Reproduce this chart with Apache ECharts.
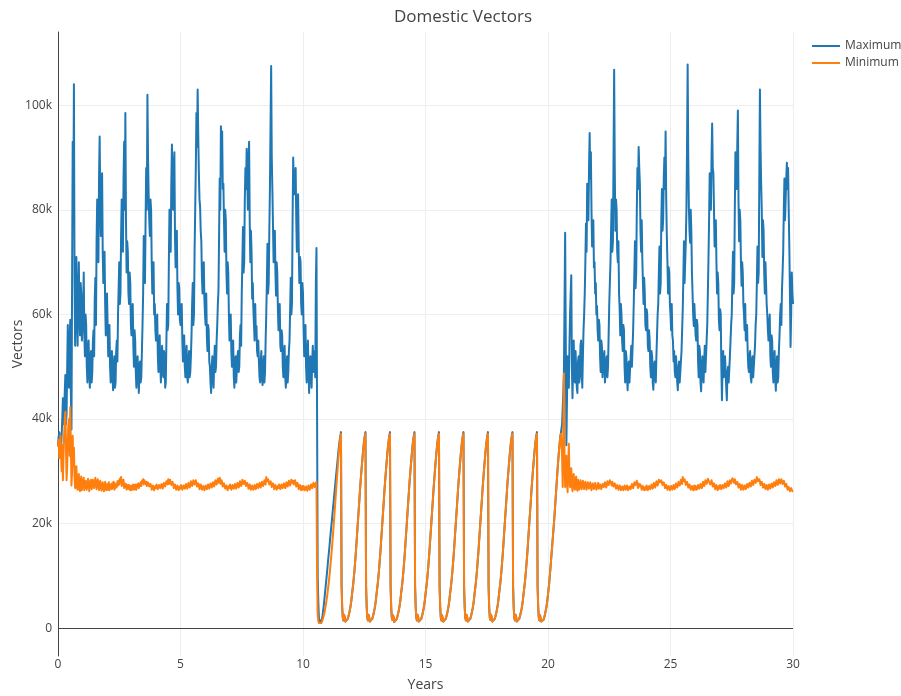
<!DOCTYPE html>
<html>
<head>
<meta charset="utf-8">
<script src="https://cdn.jsdelivr.net/npm/echarts@6/dist/echarts.min.js"></script>
<style>
html,body{margin:0;padding:0;background:#fff;}
#chart{width:901px;height:696px;}
</style>
</head>
<body>
<div id="chart"></div>
<script>
// Sample spacing of the simulation output (years)
const STEP_YEARS = 0.025;
const seriesNames = ['Maximum', 'Minimum'];
const xTickValues = [0, 5, 10, 15, 20, 25, 30];
const yTickValuesK = [0, 20, 40, 60, 80, 100];

// Domestic vectors, thousands; one row per year (40 samples per year)
const maximumK = [
  35, 36.5, 37.5, 35, 37, 34.5, 37, 40, 44, 39, 40, 45, 48.4, 39, 41, 50, 58, 47, 46, 55, 59, 45, 38, 66, 93, 80, 104, 66, 54, 62, 71, 60, 54, 63, 70, 60, 56, 66, 64, 55,
  58, 61, 68, 56, 52, 60, 58, 50, 47, 53, 55, 49, 46, 52, 53, 47, 49, 55, 57, 52, 63, 67, 58, 74, 82, 76, 70, 86, 94, 82, 75, 80, 87, 72, 66, 70, 72, 62, 56, 62,
  64, 58, 52, 55, 58, 50, 47, 51, 53, 48, 45.5, 50, 52, 46, 47, 53, 55, 51, 60, 65, 70, 62, 64, 75, 82, 77, 72, 86, 93, 80, 98.5, 78, 68, 74, 72, 64, 62, 68, 66, 58,
  56, 60, 62, 54, 50, 57, 55, 49, 46, 51, 52, 48, 45, 50, 51, 47, 48, 53, 58, 64, 75, 69, 66, 78, 88, 80, 102, 90, 83, 78, 75, 82, 80, 70, 64, 68, 70, 60, 62, 57,
  55, 58, 60, 52, 49, 54, 56, 50, 47, 52, 54, 49, 48, 53, 52, 46, 47, 55, 62, 57, 58, 70, 80, 74, 72, 85, 92.5, 84, 80, 88, 91, 75, 69, 73, 76, 65, 60, 66, 65, 59,
  58, 61, 62, 55, 51, 55, 56, 50, 48, 52, 54, 48, 47, 51, 53, 48, 49, 52, 56, 62, 66, 58, 60, 72, 80, 88, 98.5, 92, 103, 94, 87, 82, 80.6, 76, 74, 67, 64, 69, 70, 63,
  60, 58, 64, 56, 53, 58, 57, 51, 50, 47, 45, 50, 52, 48, 46, 51, 54, 49, 50, 55, 58, 62, 64.6, 75, 86, 80, 96, 88, 95, 84, 85, 78, 72, 80, 78, 68, 64, 70, 68, 60,
  55, 59, 60, 53, 50, 54, 55, 48, 46, 51, 52, 47, 47, 52, 53, 49, 50, 56, 58, 54, 64, 70, 76.7, 68, 70, 82, 88, 84, 91.7, 86, 80, 89, 93, 78, 70, 76, 72, 63, 66, 61,
  58, 55, 62, 56, 57.8, 53, 52, 55, 51, 48, 47, 51, 53, 48, 46.5, 50, 52, 47, 49, 55, 60, 66, 73.5, 64, 66, 76, 84, 96, 107.5, 90, 84, 77, 70, 74, 76, 68, 63.6, 70, 68, 61,
  57, 60, 62, 54, 53, 57, 56, 50, 48, 52, 54, 48, 46, 50, 52, 47, 49, 53, 55, 61, 67, 60, 62, 78, 90, 85, 83, 86, 88, 78, 72, 80, 83, 73, 66, 71, 70, 62, 60, 66,
  64, 57, 52, 56, 58, 50, 47, 52, 55, 49, 45, 51, 52, 48, 46, 51, 54, 49, 49, 53, 48, 66, 72.7, 40, 9.8, 5, 2.0, 1.4, 1.0, 1.1, 1.3, 1.8, 2.5, 3.4, 4.5, 5.6, 6.8, 8.0, 9.2, 10.4,
  11.7, 13.0, 14.2, 15.4, 16.7, 18.0, 19.2, 20.4, 21.7, 23.0, 24.2, 25.4, 26.7, 28.0, 29.2, 30.4, 31.6, 32.8, 34.0, 35.1, 36.0, 36.8, 37.5, 8, 4.0, 2.0, 1.5, 2.6, 2.2, 1.3, 1.0, 1.1, 1.4, 1.8, 2.2, 2.7, 3.2, 3.8, 4.5, 5.4,
  6.5, 7.5, 8.5, 9.7, 11, 12.5, 14, 15.7, 17.5, 19.2, 21, 22.7, 24.5, 26.3, 28, 29.5, 31, 32.4, 33.8, 35, 36, 36.9, 37.5, 8, 4.0, 2.0, 1.5, 2.6, 2.2, 1.3, 1.0, 1.1, 1.4, 1.8, 2.2, 2.7, 3.2, 3.8, 4.5, 5.4,
  6.5, 7.5, 8.5, 9.7, 11, 12.5, 14, 15.7, 17.5, 19.2, 21, 22.7, 24.5, 26.3, 28, 29.5, 31, 32.4, 33.8, 35, 36, 36.9, 37.5, 8, 4.0, 2.0, 1.6, 2.5, 2.1, 1.2, 1.0, 1.1, 1.4, 1.8, 2.2, 2.7, 3.2, 3.8, 4.5, 5.4,
  6.5, 7.5, 8.5, 9.7, 11, 12.5, 14, 15.7, 17.5, 19.2, 21, 22.7, 24.5, 26.3, 28, 29.5, 31, 32.4, 33.8, 35, 36, 36.9, 37.5, 8, 4.0, 2.0, 1.5, 2.6, 2.2, 1.3, 1.0, 1.1, 1.4, 1.8, 2.2, 2.7, 3.2, 3.8, 4.5, 5.4,
  6.5, 7.5, 8.5, 9.7, 11, 12.5, 14, 15.7, 17.5, 19.2, 21, 22.7, 24.5, 26.3, 28, 29.5, 31, 32.4, 33.8, 35, 36, 36.9, 37.5, 8, 4.1, 2.0, 1.5, 2.5, 2.2, 1.3, 1.0, 1.1, 1.4, 1.8, 2.2, 2.7, 3.2, 3.8, 4.5, 5.4,
  6.5, 7.5, 8.5, 9.7, 11, 12.5, 14, 15.7, 17.5, 19.2, 21, 22.7, 24.5, 26.3, 28, 29.5, 31, 32.4, 33.8, 35, 36, 36.9, 37.5, 8, 4.0, 2.0, 1.5, 2.6, 2.2, 1.3, 1.0, 1.1, 1.4, 1.8, 2.2, 2.7, 3.2, 3.8, 4.5, 5.4,
  6.5, 7.5, 8.5, 9.7, 11, 12.5, 14, 15.7, 17.5, 19.2, 21, 22.7, 24.5, 26.3, 28, 29.5, 31, 32.4, 33.8, 35, 36, 36.9, 37.5, 8, 3.9, 2.0, 1.6, 2.6, 2.1, 1.3, 1.0, 1.1, 1.4, 1.8, 2.2, 2.7, 3.2, 3.8, 4.5, 5.4,
  6.5, 7.5, 8.5, 9.7, 11, 12.5, 14, 15.7, 17.5, 19.2, 21, 22.7, 24.5, 26.3, 28, 29.5, 31, 32.4, 33.8, 35, 36, 36.9, 37.5, 8, 4.0, 2.0, 1.5, 2.6, 2.2, 1.3, 1.0, 1.1, 1.4, 1.8, 2.2, 2.7, 3.2, 3.8, 4.5, 5.4,
  6.5, 7.5, 8.5, 9.7, 11, 12.5, 14, 15.7, 17.5, 19.2, 21, 22.7, 24.5, 26.3, 28, 29.5, 31, 32.4, 33.8, 35, 36, 36.9, 37.5, 8, 4.0, 2.0, 1.5, 2.5, 2.2, 1.3, 1.0, 1.0, 1.3, 1.7, 2.1, 2.6, 3.2, 3.8, 4.5, 5.4,
  6.5, 7.6, 8.7, 10.1, 11.5, 13, 14.5, 16, 17.5, 19, 20.5, 22.2, 24, 25.7, 27.5, 29.2, 31, 32.5, 34, 35.3, 36.6, 37.3, 37.6, 39, 42, 45, 49, 62, 75.6, 55, 35, 44, 52, 48, 46, 54, 60, 64, 67.5, 50,
  44, 50, 55, 48, 47, 53, 53, 46, 45, 51, 52, 47, 48, 54, 55, 49, 46, 52, 57, 60, 64, 70, 77.4, 72, 85, 80, 78, 88, 94.7, 86, 91, 80, 73, 76, 78, 69, 70, 64, 66, 60,
  61.6, 57, 55, 59, 58, 52, 49, 55, 54, 48, 48, 52, 53, 47, 47, 51, 52, 48, 50, 56, 62, 66, 70, 76, 82, 72, 74, 90, 106.8, 88, 76, 82, 80, 72, 70, 74, 64, 61, 56, 62,
  60, 55, 53, 58, 57, 50, 47, 53, 52, 48, 45.5, 50, 51, 47, 47, 52, 54, 50, 50, 57, 62, 68, 74, 65, 68, 80, 88, 84, 92, 88, 85, 76, 72, 78, 70.5, 66, 62, 67, 64, 58,
  57, 61, 60, 54, 53, 57, 55, 50, 48, 53, 52, 47, 45.6, 50, 51, 48, 47, 52, 56, 60, 62, 68, 73, 64, 66, 78, 84, 76, 78, 86, 90, 84, 95, 82, 75, 70, 64, 69, 68, 62,
  60, 57, 62, 56, 55, 51, 53, 49, 48, 52, 52, 47, 45.5, 50, 51, 47, 47, 51, 53, 57, 61, 67, 74, 66, 66, 74, 80, 92, 107.8, 90, 80.6, 76, 73.7, 80, 76, 68, 64, 60, 57.8, 62,
  62, 56, 55, 59, 58, 51, 48, 54, 53, 47, 45.3, 50, 52, 48, 47, 51, 54, 49, 49, 55, 58, 64, 70.7, 78, 87, 82, 80, 90, 96.5, 88, 87, 80, 73, 76, 78, 70, 64, 68, 66, 59,
  57, 61, 60, 50, 43.6, 50, 53, 48, 48, 52, 52, 46, 43.6, 49, 50, 47, 47, 52, 55, 58, 60, 66, 72, 64, 66, 80, 91, 86, 84, 92, 99, 82, 74, 80, 78, 70, 65.5, 70, 68, 62,
  60, 57, 62, 55, 55, 58, 53, 50, 49, 52, 53, 48, 47, 51, 52, 48, 48, 52, 54, 58, 60, 66, 73, 66, 68, 86, 103, 92, 85, 80, 71, 78, 76, 68, 64, 70, 66, 62, 60, 57,
  55, 58, 60, 52, 50, 56, 55, 49, 47, 52, 53, 48, 45.4, 50, 52, 47, 48, 53, 56, 60, 62, 58, 64.7, 68, 72, 80, 86, 78, 82, 86, 89, 84, 88, 80, 73, 64, 53.8, 60, 68, 64,
  62
];

const minimumK = [
  34.7, 36, 32.5, 34, 36.9, 33, 30, 35, 28.3, 33, 37, 40, 41.4, 35, 28.3, 31, 36, 39, 40, 33, 42.3, 35, 27.3, 30, 36.8, 31, 34.5, 29, 26.8, 29, 31, 27, 26.5, 28.8, 29.5, 26.6, 26.2, 28.5, 29, 26.4,
  26.5, 28, 28.8, 26.4, 26.2, 28.2, 28.5, 26.5, 26.8, 28.6, 28.2, 26.2, 26.3, 28, 28.4, 26.6, 26.6, 28.4, 28.6, 26.8, 27, 28.8, 28.9, 26.6, 26.8, 28.5, 28.3, 26.4, 26.5, 28.2, 28, 26.3, 26.4, 27.9, 27.8, 26.2, 26.6, 28, 28, 26.4,
  26.3, 27.6, 26.5, 27.9, 26.4, 27.4, 26.7, 27.6, 26.6, 27.8, 26.9, 28, 26.5, 27.7, 26.8, 27.5, 27, 28.1, 27.3, 28.2, 27.5, 28.6, 27.9, 28.9, 27.2, 28.3, 27.4, 28.4, 26.8, 27.7, 27, 27.6, 26.5, 27.4, 26.7, 27.4, 26.6, 27.3, 26.4, 27.2,
  26.4, 27.3, 26.6, 27.5, 26.5, 27.4, 26.6, 27.5, 26.5, 27.3, 27, 27.7, 26.8, 27.6, 27.2, 27.9, 27.2, 28.1, 27.9, 28.5, 27.5, 28.3, 28.3, 27.6, 28, 27.2, 27.4, 27.9, 27.8, 27.1, 26.9, 27.6, 27.2, 26.5, 26.6, 27.3, 27.1, 26.4, 26.5, 27.2,
  26.8, 27.5, 27.3, 26.6, 26.6, 27.4, 27.5, 26.8, 26.9, 27.6, 27.2, 26.7, 27, 27.8, 27.8, 27.1, 27.4, 28.1, 28.2, 27.5, 28.5, 27.6, 27.8, 28.4, 28.1, 27.4, 27.3, 28, 27.5, 26.8, 26.8, 27.5, 27.2, 26.5, 26.6, 27.3, 27, 26.4, 26.5, 27.1,
  26.7, 27.4, 27.2, 26.5, 26.5, 27.3, 27.4, 26.7, 26.8, 27.6, 27.3, 26.7, 27, 27.8, 27.6, 26.9, 27.3, 28.1, 27.9, 27.2, 27.6, 28.3, 28.2, 27.5, 27.5, 28.3, 27.8, 27.1, 27, 27.7, 27.3, 26.6, 26.8, 27.5, 27.1, 26.5, 26.4, 27.2, 27, 26.4,
  26.5, 27.3, 27.2, 26.6, 26.7, 27.5, 27.3, 26.7, 26.9, 27.7, 27.5, 26.9, 27.1, 27.9, 27.8, 27.1, 27.4, 28.3, 28.2, 27.5, 27.8, 28.6, 28.5, 27.8, 28.8, 28, 27.6, 28.3, 27.9, 27.1, 27, 27.7, 27.4, 26.7, 26.6, 27.3, 27.1, 26.4, 26.5, 27.2,
  26.8, 27.5, 27.2, 26.5, 26.6, 27.4, 27.4, 26.7, 26.9, 27.6, 27.3, 26.7, 27, 27.8, 27.6, 26.9, 27.3, 28.1, 27.8, 27.2, 27.6, 28.4, 28.3, 27.6, 27.5, 28.2, 27.9, 27.2, 27.1, 27.8, 27.4, 26.7, 26.8, 27.5, 27.2, 26.5, 26.6, 27.3, 27, 26.5,
  26.7, 27.4, 27.3, 26.6, 26.8, 27.6, 27.5, 26.8, 27, 27.8, 27.6, 26.9, 27.2, 28, 27.9, 27.2, 27.5, 28.3, 28.2, 27.5, 28.9, 28.1, 27.8, 28.5, 28.3, 27.5, 27.4, 28.1, 27.7, 27, 27, 27.7, 27.3, 26.6, 26.7, 27.4, 27.1, 26.5, 26.6, 27.2,
  26.8, 27.5, 27.3, 26.6, 26.7, 27.5, 27.4, 26.8, 27, 27.7, 27.5, 26.8, 27.2, 27.9, 27.8, 27.1, 27.4, 28.2, 28, 27.3, 27.7, 28.4, 28.5, 27.8, 28.2, 27.5, 27.6, 28.3, 27.8, 27.1, 27.1, 27.8, 27.3, 26.6, 26.7, 27.4, 27, 26.4, 26.6, 27.2,
  26.5, 27.2, 27, 26.4, 26.4, 27.1, 26.8, 26.3, 26.6, 27.3, 27.1, 26.5, 26.9, 27.5, 27.3, 26.8, 27.2, 27.8, 27.5, 27, 27.6, 27.8, 28.0, 10, 2.5, 1.4, 1.0, 0.8, 0.8, 0.9, 1.0, 1.3, 1.6, 2.0, 2.5, 3.0, 3.6, 4.3, 5.0, 5.8,
  6.7, 7.7, 8.7, 9.8, 11, 12.3, 13.6, 15, 16.5, 18, 19.6, 21.2, 22.9, 24.6, 26.3, 28, 29.6, 31.2, 32.8, 34.2, 35.5, 36.5, 37.2, 8, 4.0, 2.0, 1.5, 2.6, 2.2, 1.3, 1.0, 1.1, 1.4, 1.8, 2.2, 2.7, 3.2, 3.8, 4.5, 5.4,
  6.5, 7.5, 8.5, 9.7, 11, 12.5, 14, 15.7, 17.5, 19.2, 21, 22.7, 24.5, 26.3, 28, 29.5, 31, 32.4, 33.8, 35, 36, 36.7, 37.2, 8, 4.0, 2.0, 1.5, 2.6, 2.2, 1.3, 1.0, 1.1, 1.4, 1.8, 2.2, 2.7, 3.2, 3.8, 4.5, 5.4,
  6.5, 7.5, 8.5, 9.7, 11, 12.5, 14, 15.7, 17.5, 19.2, 21, 22.7, 24.5, 26.3, 28, 29.5, 31, 32.4, 33.8, 35, 36, 36.7, 37.2, 8, 4.0, 2.0, 1.6, 2.5, 2.1, 1.2, 1.0, 1.1, 1.4, 1.8, 2.2, 2.7, 3.2, 3.8, 4.5, 5.4,
  6.5, 7.5, 8.5, 9.7, 11, 12.5, 14, 15.7, 17.5, 19.2, 21, 22.7, 24.5, 26.3, 28, 29.5, 31, 32.4, 33.8, 35, 36, 36.7, 37.2, 8, 4.0, 2.0, 1.5, 2.6, 2.2, 1.3, 1.0, 1.1, 1.4, 1.8, 2.2, 2.7, 3.2, 3.8, 4.5, 5.4,
  6.5, 7.5, 8.5, 9.7, 11, 12.5, 14, 15.7, 17.5, 19.2, 21, 22.7, 24.5, 26.3, 28, 29.5, 31, 32.4, 33.8, 35, 36, 36.7, 37.2, 8, 4.1, 2.0, 1.5, 2.5, 2.2, 1.3, 1.0, 1.1, 1.4, 1.8, 2.2, 2.7, 3.2, 3.8, 4.5, 5.4,
  6.5, 7.5, 8.5, 9.7, 11, 12.5, 14, 15.7, 17.5, 19.2, 21, 22.7, 24.5, 26.3, 28, 29.5, 31, 32.4, 33.8, 35, 36, 36.7, 37.2, 8, 4.0, 2.0, 1.5, 2.6, 2.2, 1.3, 1.0, 1.1, 1.4, 1.8, 2.2, 2.7, 3.2, 3.8, 4.5, 5.4,
  6.5, 7.5, 8.5, 9.7, 11, 12.5, 14, 15.7, 17.5, 19.2, 21, 22.7, 24.5, 26.3, 28, 29.5, 31, 32.4, 33.8, 35, 36, 36.7, 37.2, 8, 3.9, 2.0, 1.6, 2.6, 2.1, 1.3, 1.0, 1.1, 1.4, 1.8, 2.2, 2.7, 3.2, 3.8, 4.5, 5.4,
  6.5, 7.5, 8.5, 9.7, 11, 12.5, 14, 15.7, 17.5, 19.2, 21, 22.7, 24.5, 26.3, 28, 29.5, 31, 32.4, 33.8, 35, 36, 36.7, 37.2, 8, 4.0, 2.0, 1.5, 2.6, 2.2, 1.3, 1.0, 1.1, 1.4, 1.8, 2.2, 2.7, 3.2, 3.8, 4.5, 5.4,
  6.5, 7.5, 8.5, 9.7, 11, 12.5, 14, 15.7, 17.5, 19.2, 21, 22.7, 24.5, 26.3, 28, 29.5, 31, 32.4, 33.8, 35, 36, 36.7, 37.2, 8, 4.0, 2.0, 1.5, 2.5, 2.2, 1.3, 1.0, 1.0, 1.3, 1.7, 2.1, 2.6, 3.2, 3.8, 4.5, 5.4,
  6.5, 7.6, 8.7, 10.1, 11.5, 13, 14.5, 16, 17.5, 19, 20.5, 22.2, 24, 25.7, 27.5, 29.2, 31, 32.5, 34, 35.3, 36.5, 37.2, 37.5, 33, 27, 38, 48.7, 32, 27, 30, 33, 28, 26, 31, 35.3, 29, 27, 28.5, 30.6, 27.2,
  26.2, 28.5, 29.5, 27, 26.5, 28.6, 29, 26.8, 26.3, 28.4, 28.6, 26.5, 26.8, 28.3, 28.4, 26.6, 26.5, 28.2, 28.2, 26.6, 26.9, 28, 27.8, 26.5, 26.6, 27.9, 28.1, 26.7, 26.8, 27.9, 27.6, 26.4, 26.5, 27.7, 27.9, 26.6, 26.7, 27.8, 27.5, 26.5,
  26.4, 27.4, 27.8, 26.7, 26.6, 27.5, 27.4, 26.6, 26.8, 27.6, 27.9, 27, 27.1, 27.9, 27.6, 26.9, 27.4, 28.1, 28.2, 27.4, 27.6, 28.3, 28.5, 27.7, 27.3, 28, 27.9, 27.1, 27, 27.7, 27.4, 26.7, 26.6, 27.4, 27.2, 26.5, 26.5, 27.3, 27, 26.4,
  26.3, 27.1, 27.1, 26.4, 26.5, 27.3, 27.2, 26.5, 26.6, 27.3, 27, 26.4, 26.4, 27.1, 27.3, 26.6, 26.8, 27.6, 27.5, 26.8, 27.2, 27.9, 28.1, 27.4, 27.6, 28.2, 27.3, 26.8, 27.7, 27.1, 26.9, 27.5, 27.2, 26.5, 26.4, 27.2, 27, 26.4, 26.3, 27,
  26.5, 27.3, 27.1, 26.4, 26.4, 27.2, 27.3, 26.6, 26.8, 27.5, 27.4, 26.7, 27, 27.8, 27.6, 26.9, 27.4, 28.1, 28, 27.3, 27.8, 28.4, 28.6, 27.9, 27.6, 28.3, 28.1, 27.4, 27.2, 27.9, 27.5, 26.8, 26.7, 27.4, 27.1, 26.5, 26.5, 27.2, 27, 26.4,
  26.4, 27.2, 27.2, 26.5, 26.6, 27.4, 27.3, 26.6, 26.9, 27.7, 27.6, 26.9, 27.3, 28, 28, 27.3, 27.7, 28.4, 28.4, 27.6, 28.9, 28.1, 27.8, 28.5, 28.2, 27.4, 27.3, 28, 27.6, 26.9, 26.8, 27.5, 27.2, 26.5, 26.5, 27.2, 27, 26.4, 26.6, 27.3,
  26.5, 27.2, 27.1, 26.5, 26.6, 27.4, 27.4, 26.7, 26.9, 27.6, 27.5, 26.8, 27.2, 28, 27.9, 27.2, 27.5, 28.3, 28.3, 27.6, 27.9, 28.6, 28.7, 28, 28.2, 27.5, 27.6, 28.3, 27.8, 27.1, 27, 27.7, 27.3, 26.6, 26.6, 27.4, 27.1, 26.4, 26.5, 27.2,
  26.7, 27.4, 27.3, 26.6, 26.6, 27.4, 27.5, 26.8, 27, 27.7, 27.6, 26.9, 27.3, 28.1, 28, 27.2, 27.6, 28.3, 28.4, 27.7, 28, 28.7, 28.9, 28.2, 27.8, 28.5, 28.2, 27.5, 27.3, 28, 27.6, 26.9, 26.9, 27.6, 27.2, 26.5, 26.6, 27.4, 27.1, 26.5,
  26.6, 27.3, 27.3, 26.6, 26.8, 27.6, 27.6, 26.9, 27.1, 27.8, 27.8, 27.1, 27.4, 28.2, 28.1, 27.4, 27.7, 28.4, 28.5, 27.8, 28.2, 28.9, 28.8, 28.1, 27.9, 28.5, 28.1, 27.4, 27.3, 28, 27.6, 26.9, 26.9, 27.6, 27.3, 26.6, 26.7, 27.4, 27.2, 26.5,
  26.8, 27.5, 27.4, 26.7, 26.9, 27.7, 27.6, 26.9, 27.2, 27.9, 27.9, 27.2, 27.5, 28.3, 28.2, 27.4, 27.8, 28.5, 28.4, 27.7, 27.9, 28.5, 28.3, 27.6, 27.5, 28.2, 27.8, 27.1, 27, 27.6, 27.2, 26.5, 26.4, 27, 26.8, 26.2, 26.2, 26.8, 26.6, 26.2,
  26.3
];

function toPairs(values) {
  return values.map((v, i) => [Math.round(i * STEP_YEARS * 1000) / 1000, v]);
}

const chart = echarts.init(document.getElementById('chart'), null, { renderer: 'canvas' });
const FONT = '"Open Sans", verdana, arial, sans-serif';

chart.setOption({
  animation: false,
  backgroundColor: '#fff',
  textStyle: { fontFamily: FONT },
  title: {
    text: 'Domestic Vectors',
    left: 458,
    textAlign: 'center',
    top: 4,
    textStyle: { fontFamily: FONT, fontSize: 17, fontWeight: 'normal', color: '#444' }
  },
  legend: {
    data: seriesNames,
    orient: 'vertical',
    left: 807,
    top: 35,
    icon: 'rect',
    itemWidth: 28,
    itemHeight: 2,
    itemGap: 5,
    textStyle: { fontFamily: FONT, fontSize: 12, color: '#444' }
  },
  grid: { left: 58, right: 108, top: 32, bottom: 40, containLabel: false, outerBoundsMode: 'none' },
  xAxis: {
    type: 'value',
    min: 0,
    max: 30,
    interval: 5,
    name: 'Years',
    nameLocation: 'middle',
    nameGap: 22,
    nameMoveOverlap: false,
    nameTextStyle: { fontFamily: FONT, fontSize: 14, color: '#444' },
    axisLine: { show: false },
    axisTick: { show: false },
    axisLabel: { color: '#444', fontSize: 12, margin: 3, fontFamily: FONT },
    splitLine: { show: true, lineStyle: { color: '#eee', width: 1 } }
  },
  yAxis: {
    type: 'value',
    min: -5.3,
    max: 114,
    name: 'Vectors',
    nameLocation: 'middle',
    nameGap: 33,
    nameMoveOverlap: false,
    nameTextStyle: { fontFamily: FONT, fontSize: 14, color: '#444' },
    axisLine: { show: true, onZero: false, lineStyle: { color: '#444', width: 1 } },
    axisTick: { show: false, customValues: yTickValuesK },
    axisLabel: {
      customValues: yTickValuesK,
      color: '#444', fontSize: 12, margin: 6, fontFamily: FONT,
      formatter: v => (v === 0 ? '0' : v + 'k')
    },
    splitLine: { show: true, lineStyle: { color: '#eee', width: 1 } }
  },
  series: [
    {
      name: seriesNames[0],
      type: 'line',
      data: toPairs(maximumK),
      showSymbol: false,
      symbol: 'none',
      lineStyle: { width: 2, color: '#1f77b4', join: 'round' },
      itemStyle: { color: '#1f77b4' },
      markLine: {
        silent: true,
        symbol: ['none', 'none'],
        label: { show: false },
        lineStyle: { color: '#444', width: 1, type: 'solid' },
        emphasis: { disabled: true },
        data: [{ yAxis: 0 }]
      },
      z: 2
    },
    {
      name: seriesNames[1],
      type: 'line',
      data: toPairs(minimumK),
      showSymbol: false,
      symbol: 'none',
      lineStyle: { width: 2, color: '#ff7f0e', join: 'round' },
      itemStyle: { color: '#ff7f0e' },
      z: 3
    }
  ]
});
</script>
</body>
</html>
